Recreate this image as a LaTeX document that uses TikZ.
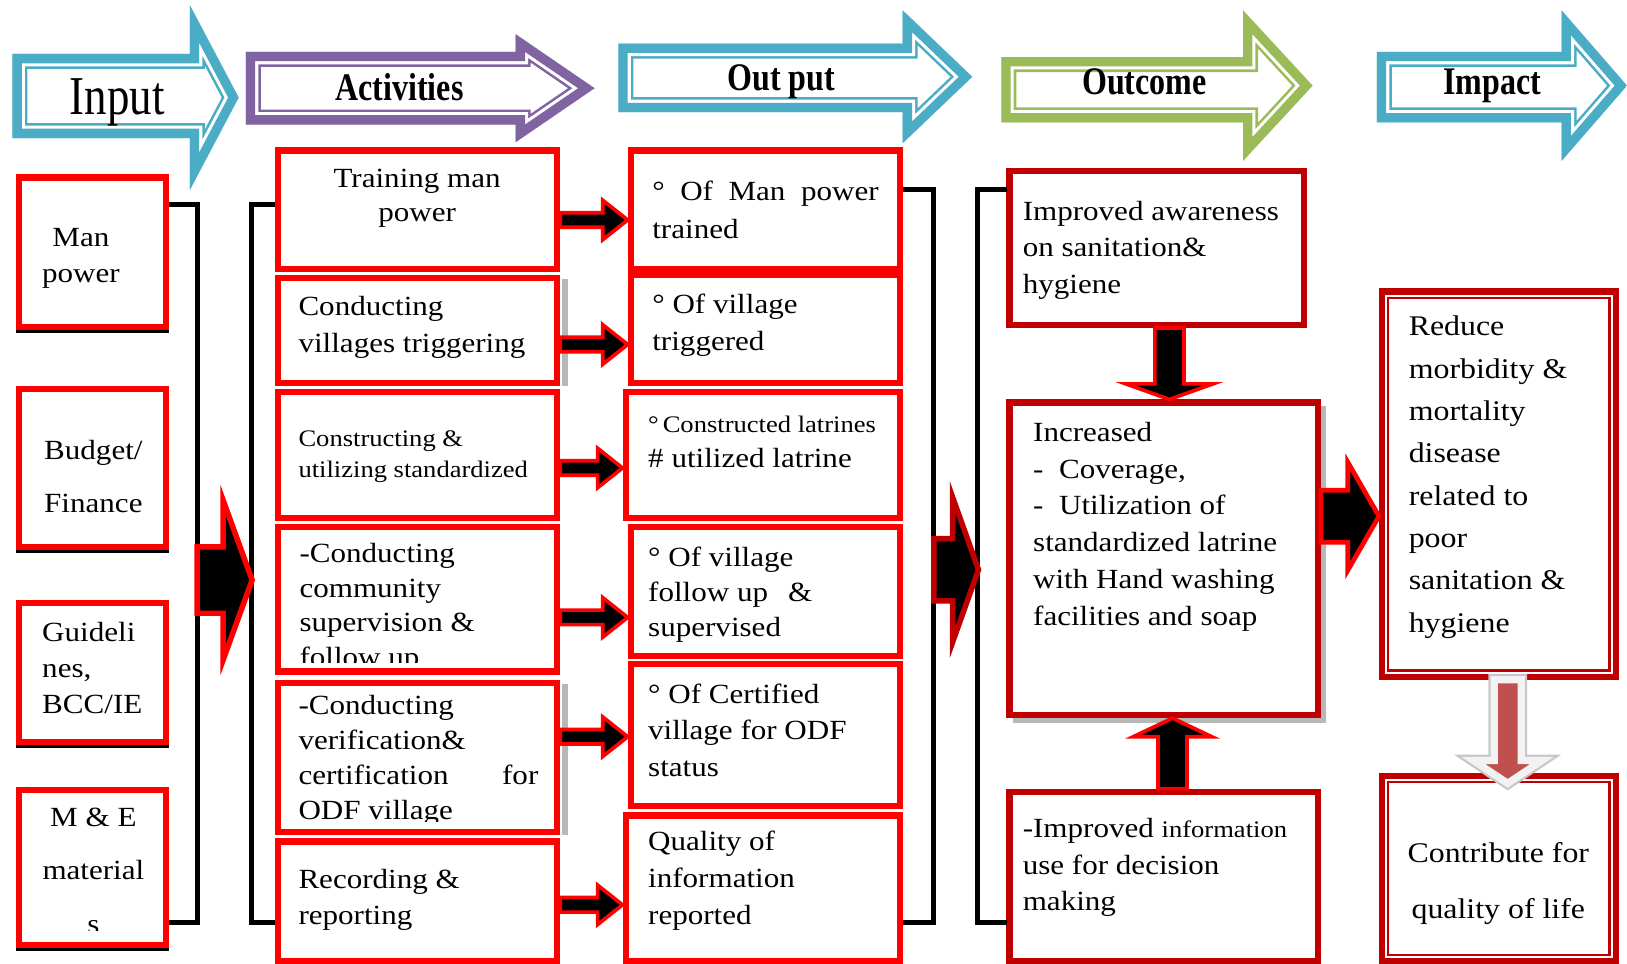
\documentclass[tikz,border=0pt]{standalone}
\usepackage{fontspec}
\setmainfont{Liberation Serif}[FakeStretch=1.12]
\newfontfamily\hdrfont{Liberation Serif}[FakeStretch=0.82]
\usetikzlibrary{calc}

\definecolor{hcyan}{HTML}{4BACC6}
\definecolor{hpurple}{HTML}{8064A2}
\definecolor{hgreen}{HTML}{9BBB59}
\definecolor{boxred}{HTML}{FF0000}
\definecolor{darkred}{HTML}{C00000}
\definecolor{softred}{HTML}{C0504D}

\begin{document}
\begin{tikzpicture}[
        x=0.01cm, y=-0.01cm,
        redbox/.style={
          draw=boxred,
          line width=1.7pt,
          inner sep=0
          },
        darkbox/.style={
          draw=darkred,
          line width=1.7pt,
          inner sep=0
          },
        txt/.style={
          inner sep=0,
          align=left,
          anchor=north west,
          font=\fontsize{7.6}{10}\selectfont
          },
        ctxt/.style={txt, align=center, anchor=north},
        hdr/.style={
          inner sep=0,
          anchor=base,
          font=\hdrfont\bfseries\fontsize{10.7}{12}\selectfont
          },
        bracket/.style={draw=black, line width=1.4pt},
        shade/.style={fill=black!28, draw=none},
        harrow/.style n args={3}{
          fill=black, draw=boxred, line width=1pt, line join=miter,
          to path={($(\tikztostart)+(0,-#1)$) -- ($(\tikztotarget)+(-#3,-#1)$)
            -- ($(\tikztotarget)+(-#3,-#2)$) -- (\tikztotarget)
            -- ($(\tikztotarget)+(-#3,#2)$) -- ($(\tikztotarget)+(-#3,#1)$)
            -- ($(\tikztostart)+(0,#1)$) -- cycle}
          },
        varrow/.style n args={3}{
          fill=black, draw=boxred, line width=1pt, line join=miter,
          to path={($(\tikztostart)+(-#1,0)$) -- ($(\tikztotarget)+(-#1,{-(#3)})$)
            -- ($(\tikztotarget)+(-#2,{-(#3)})$) -- (\tikztotarget)
            -- ($(\tikztotarget)+(#2,{-(#3)})$) -- ($(\tikztotarget)+(#1,{-(#3)})$)
            -- ($(\tikztostart)+(#1,0)$) -- cycle}
          }
        ]
        \useasboundingbox (0,0) rectangle (1568,929);

        % header arrows
        \foreach \col/\xa/\xb/\xc/\ya/\yb/\yc/\yd in {hcyan/12/183/230/52/133/5/183,
            hpurple/237/497/573/50/120/33/137, hcyan/596/870/937/42/108/10/138,
            hgreen/965/1198/1265/55/118/10/155, hcyan/1327/1505/1568/50/118/10/155}
        {
          \def\hp{(\xa,\ya) -- (\xb,\ya) -- (\xb,\yc) -- (\xc,{(\yc+\yd)/2}) -- (\xb,\yd) -- (\xb,\yb) -- (\xa,\yb) -- cycle}
          \begin{scope}
            \clip \hp;
            \draw[draw=\col, line width=8.2pt] \hp;
            \draw[draw=white, line width=6.8pt] \hp;
            \draw[draw=\col, line width=5.1pt] \hp;
          \end{scope}
        }
        \node[hdr, font=\hdrfont\fontsize{15}{16}\selectfont] (h-in) at (113,110) {Input};
        \node[hdr] (h-act) at (385,97) {Activities};
        \node[hdr] (h-out) at (753,87) {Out put};
        \node[hdr] (h-oc) at (1103,91) {Outcome};
        \node[hdr] (h-im) at (1438,91) {Impact};

        % texts
        \node[ctxt] (t-in1) at (78,219) {Man\\power};
        \node[ctxt, font=\fontsize{7.6}{14.5}\selectfont] (t-in2) at (90,424) {Budget/\\Finance};
        \node[txt, font=\fontsize{7.6}{9.8}\selectfont] (t-in3) at (40,599) {Guideli\\nes,\\BCC/IE};
        \begin{scope}
          \clip (15,758) rectangle (163,897);
          \node[ctxt, font=\fontsize{7.6}{14.6}\selectfont] (t-in4) at (90,778) {M \& E\\material\\s};
        \end{scope}

        \node[ctxt, font=\fontsize{7.6}{9.4}\selectfont] (t-act1) at (402,162) {Training man\\power};
        \node[txt] (t-act2) at (287,285) {Conducting\\villages triggering};
        \node[txt, font=\fontsize{6.5}{8.5}\selectfont] (t-act3) at (287,414) {Constructing \&\\utilizing standardized};
        \begin{scope}
          \clip (265,505) rectangle (540,638);
          \node[txt, font=\fontsize{7.6}{9.5}\selectfont] (t-act4) at (288,523) {-Conducting\\community\\supervision \&\\follow up};
        \end{scope}
        \begin{scope}
          \clip (265,655) rectangle (540,792);
          \node[txt, font=\fontsize{7.6}{9.6}\selectfont] (t-act5) at (287,669)
            {-Conducting\\verification\&\\\makebox[2.31cm][l]{certification\hfill for}\\ODF village};
        \end{scope}
        \node[txt] (t-act6) at (287,837) {Recording \&\\reporting};

        \node[txt, font=\fontsize{7.6}{10.2}\selectfont] (t-out1) at (628,174) {\makebox[2.18cm][s]{° Of Man power}\\trained};
        \node[txt] (t-out2) at (628,283) {° Of village\\triggered};
        \node[txt, font=\fontsize{7.6}{9.7}\selectfont] (t-out3) at (624,400)
          {{\fontsize{6.5}{8}\selectfont °\,Constructed latrines}\\\# utilized latrine};
        \node[txt, font=\fontsize{7.6}{9.7}\selectfont] (t-out4) at (624,526)
          {° Of village\\\makebox[1.58cm][l]{follow up\hfill\&}\\supervised};
        \node[txt] (t-out5) at (624,658) {° Of Certified\\village for ODF\\status};
        \node[txt, font=\fontsize{7.6}{10.2}\selectfont] (t-out6) at (624,800) {Quality of\\information\\reported};

        \node[txt] (t-oc1) at (985,193) {Improved awareness\\on sanitation\&\\hygiene};
        \node[txt, font=\fontsize{7.6}{10.1}\selectfont] (t-oc2) at (995,406)
          {Increased\\-\hspace{0.15cm}Coverage,\\-\hspace{0.15cm}Utilization of\\standardized latrine\\with Hand washing\\facilities and soap};
        \node[txt] (t-oc3) at (985,788) {-Improved {\fontsize{6.5}{8}\selectfont information}\\use for decision\\making};

        \node[txt, font=\fontsize{7.8}{11.6}\selectfont] (t-im1) at (1357,304)
          {Reduce\\morbidity \&\\mortality\\disease\\related to\\poor\\sanitation \&\\hygiene};
        \node[ctxt, font=\fontsize{7.8}{15.4}\selectfont] (t-im2) at (1444,811) {Contribute for\\quality of life};

        % boxes
        \node[redbox, minimum width=1.42cm, minimum height=1.44cm] (in1) at (89,243) {};
        \node[redbox, minimum width=1.42cm, minimum height=1.52cm] (in2) at (89,451) {};
        \node[redbox, minimum width=1.42cm, minimum height=1.34cm] (in3) at (89,648) {};
        \node[redbox, minimum width=1.42cm, minimum height=1.50cm] (in4) at (89,836) {};
        \foreach \b in {in1,in2,in3,in4}
          \draw[black, line width=0.8pt] ([yshift=-0.4pt]\b.south west) -- ([yshift=-0.4pt]\b.south east);

        \node[redbox, minimum width=2.69cm, minimum height=1.14cm] (act1) at (402.5,202) {};
        \node[redbox, minimum width=2.69cm, minimum height=1.01cm] (act2) at (402.5,318.5) {};
        \node[redbox, minimum width=2.69cm, minimum height=1.21cm] (act3) at (402.5,438.5) {};
        \node[redbox, minimum width=2.69cm, minimum height=1.39cm] (act4) at (402.5,577.5) {};
        \node[redbox, minimum width=2.69cm, minimum height=1.44cm] (act5) at (402.5,730) {};
        \node[redbox, minimum width=2.69cm, minimum height=1.15cm] (act6) at (402.5,868.5) {};
        \foreach \b in {act2,act5}
          \fill[shade] ([shift={(2,4)}]\b.north east) rectangle ([shift={(7,0)}]\b.south east);

        \node[redbox, minimum width=2.59cm, minimum height=1.14cm] (out1) at (737.5,202) {};
        \node[redbox, minimum width=2.59cm, minimum height=1.04cm] (out2) at (737.5,317) {};
        \node[redbox, minimum width=2.64cm, minimum height=1.21cm] (out3) at (735,438.5) {};
        \node[redbox, minimum width=2.59cm, minimum height=1.24cm] (out4) at (737.5,570) {};
        \node[redbox, minimum width=2.59cm, minimum height=1.37cm] (out5) at (737.5,708.5) {};
        \node[redbox, minimum width=2.64cm, minimum height=1.40cm] (out6) at (735,856) {};

        \node[darkbox, minimum width=2.84cm, minimum height=1.48cm] (oc1) at (1115,239) {};
        \node[darkbox, minimum width=2.97cm, minimum height=3.01cm] (oc2) at (1121.5,538.5) {};
        \node[darkbox, minimum width=2.97cm, minimum height=1.63cm] (oc3) at (1121.5,844.5) {};
        \fill[shade] ([shift={(0,6)}]oc2.north east) rectangle ([shift={(5,5)}]oc2.south east);
        \fill[shade] ([shift={(6,0)}]oc2.south west) rectangle ([shift={(5,5)}]oc2.south east);

        \node[darkbox, minimum width=2.25cm, minimum height=3.71cm] (im1) at (1444.5,466.5) {};
        \node[darkbox, minimum width=2.25cm, minimum height=1.78cm] (im2) at (1444.5,837) {};
        \foreach \b in {im1,im2}
          \draw[darkred, line width=0.6pt] ([shift={(9,9)}]\b.north west) rectangle ([shift={(-9,-9)}]\b.south east);

        % brackets
        \draw[bracket] (163,197) -- (190,197) -- (190,889) -- (163,889);
        \draw[bracket] (265,197) -- (242,197) -- (242,889) -- (265,889);
        \draw[bracket] (870,183) -- (900,183) -- (900,889) -- (870,889);
        \draw[bracket] (970,183) -- (942,183) -- (942,889) -- (970,889);

        % arrows
        \coordinate (ba) at (190,559);
        \coordinate (bb) at (243,559);
        \draw[harrow={32}{77}{28}, line width=1.5pt] (ba) to (bb);
        \coordinate (bc) at (900,549);
        \coordinate (bd) at (943,549);
        \draw[harrow={30}{70}{25}, draw=darkred, line width=1.5pt] (bc) to (bd);

        \foreach \i/\dy in {1/10,2/13.5,3/12.5,4/17.5,5/-20,6/3.5}
        {
          \path (act\i.east) ++(0,\dy) coordinate (s\i);
          \draw[harrow={7}{19}{24}] (s\i) to (s\i -| out\i.west);
        }

        \path (oc1.south) ++(12,0) coordinate (d1);
        \draw[varrow={14}{42}{15}] (d1) to (d1 |- oc2.north);
        \path (oc3.north) ++(8.5,0) coordinate (u1);
        \draw[varrow={14}{38}{-18}] (u1) to (u1 |- oc2.south);
        \path (oc2.east) ++(0,-41) coordinate (r1);
        \draw[harrow={25}{52}{30}, line width=1.3pt] (r1) to (r1 -| im1.west);
        \path (im1.south) ++(8.5,0) coordinate (g1);
        \path (g1 |- im2.north) ++(0,10) coordinate (g2);
        \draw[varrow={13}{33}{22}, fill=softred, draw=black!5, line width=2pt,
          preaction={draw=black!22, line width=3.2pt}] (g1) to (g2);
    \end{tikzpicture}
\end{document}
